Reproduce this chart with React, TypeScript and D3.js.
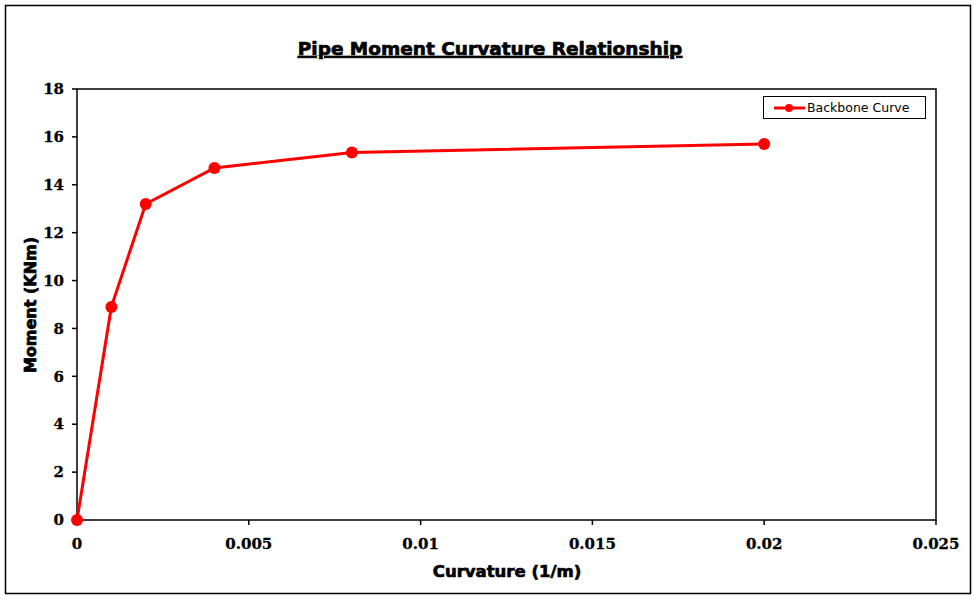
import * as d3 from "d3";

const curvature = [0, 0.001, 0.002, 0.004, 0.008, 0.02];
const moment = [0, 8.9, 13.2, 14.7, 15.35, 15.7];
const xTicks = [0, 0.005, 0.01, 0.015, 0.02, 0.025];
const yTicks = [0, 2, 4, 6, 8, 10, 12, 14, 16, 18];
const seriesName = "Backbone Curve";

const W = 977;
const H = 600;
const plot = {left: 77, top: 89, right: 936, bottom: 520};
const RED = "#ff0000";

export default function App() {
    const x = d3.scaleLinear().domain([0, 0.025]).range([plot.left, plot.right]);
    const y = d3.scaleLinear().domain([0, 18]).range([plot.bottom, plot.top]);
    const pts = curvature.map((c, i) => [c, moment[i]] as [number, number]);
    const line = d3.line<[number, number]>().x(d => x(d[0])).y(d => y(d[1]));

    // heavy look like Verdana bold at screen res
    const heavy = {stroke: "black", strokeWidth: 0.7};

    return (
        <svg width={W} height={H} style={{position: "absolute", left: 0, top: 0}}>
            <rect x={0} y={0} width={W} height={H} fill="white" />
            <rect x={5.5} y={5.5} width={965} height={588} fill="white" stroke="black" strokeWidth={1.5} />
            <text x={490} y={55} textAnchor="middle" fontFamily="DejaVu Sans" fontWeight="bold"
                  fontSize={18.5} textDecoration="underline" {...heavy}>Pipe Moment Curvature Relationship</text>

            <rect x={plot.left} y={plot.top} width={plot.right - plot.left} height={plot.bottom - plot.top}
                  fill="white" stroke="black" strokeWidth={1.5} />

            {yTicks.map(t => (
                <g key={"y" + t}>
                    <line x1={plot.left - 5} x2={plot.left} y1={y(t)} y2={y(t)} stroke="black" strokeWidth={1.5} />
                    <text x={64} y={y(t)} dy="0.35em" textAnchor="end" fontFamily="DejaVu Serif"
                          fontWeight="bold" fontSize={15} stroke="black" strokeWidth={0.3}>{t}</text>
                </g>
            ))}
            {xTicks.map(t => (
                <g key={"x" + t}>
                    <line x1={x(t)} x2={x(t)} y1={plot.bottom} y2={plot.bottom + 5} stroke="black" strokeWidth={1.5} />
                    <text x={x(t)} y={549} textAnchor="middle" fontFamily="DejaVu Serif"
                          fontWeight="bold" fontSize={15} stroke="black" strokeWidth={0.3}>{t}</text>
                </g>
            ))}

            <text x={507} y={577} textAnchor="middle" fontFamily="DejaVu Sans" fontWeight="bold"
                  fontSize={16.5} {...heavy}>Curvature (1/m)</text>
            <text transform="translate(36,305) rotate(-90)" textAnchor="middle" fontFamily="DejaVu Sans"
                  fontWeight="bold" fontSize={16} {...heavy}>Moment (KNm)</text>

            <path d={line(pts) ?? ""} fill="none" stroke={RED} strokeWidth={3} />
            {pts.map((p, i) => (
                <circle key={i} cx={x(p[0])} cy={y(p[1])} r={6} fill={RED} />
            ))}

            <rect x={763.5} y={96.5} width={162} height={22} fill="white" stroke="black" strokeWidth={1} />
            <line x1={774} x2={805} y1={108} y2={108} stroke={RED} strokeWidth={3} />
            <circle cx={789} cy={108} r={4} fill={RED} />
            <text x={807} y={108} dy="0.35em" fontFamily="DejaVu Sans" fontSize={12.5}>{seriesName}</text>
        </svg>
    );
}
